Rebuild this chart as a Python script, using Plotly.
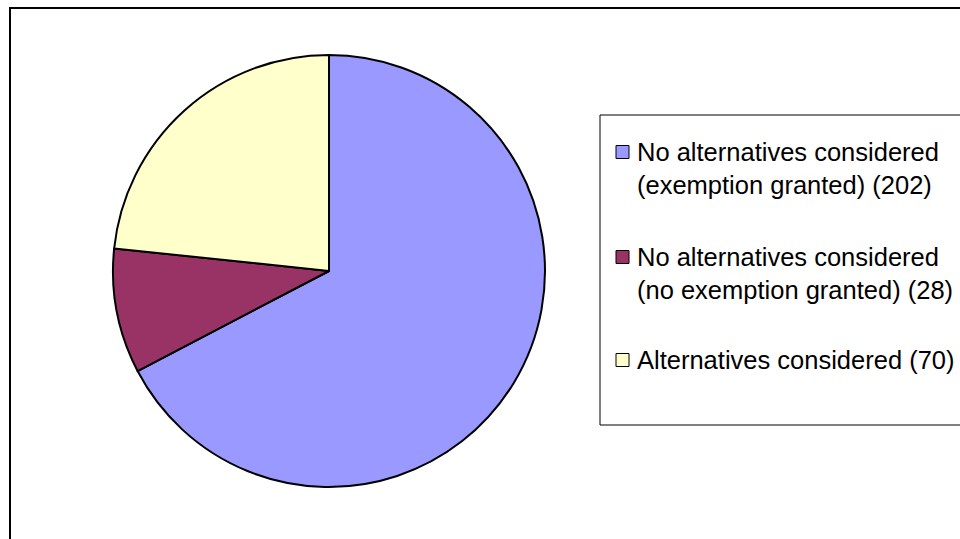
import plotly.graph_objects as go

labels = ["No alternatives considered<br>(exemption granted) (202)",
          "No alternatives considered<br>(no exemption granted) (28)",
          "Alternatives considered (70)"]
values = [202, 28, 70]
colors = ["#9999FF", "#993366", "#FFFFCC"]

W, H = 960, 539

fig = go.Figure(go.Pie(
    labels=labels, values=values, sort=False, direction="clockwise", rotation=0,
    marker=dict(colors=colors, line=dict(color="black", width=2)),
    textinfo="none", hoverinfo="label+value", showlegend=False,
    domain=dict(x=[113 / W, 545 / W], y=[1 - 487 / H, 1 - 55 / H]),
))

shapes = [
    dict(type="rect", xref="paper", yref="paper", x0=10 / W, x1=1.02, y0=-0.02, y1=1 - 8 / H,
         line=dict(color="black", width=2), fillcolor="rgba(0,0,0,0)"),
    dict(type="rect", xref="paper", yref="paper", x0=600 / W, x1=1.02, y0=1 - 425 / H, y1=1 - 115 / H,
         line=dict(color="black", width=1), fillcolor="rgba(0,0,0,0)"),
]
annotations = []
item_y = [152, 257, 360]
for i, (lab, col) in enumerate(zip(labels, colors)):
    y = item_y[i]
    shapes.append(dict(type="rect", xref="paper", yref="paper",
                       x0=616 / W, x1=629 / W, y0=1 - (y + 6.5) / H, y1=1 - (y - 6.5) / H,
                       line=dict(color="black", width=1), fillcolor=col))
    annotations.append(dict(xref="paper", yref="paper", x=635 / W, y=1 - (y - 16) / H,
                            xanchor="left", yanchor="top", showarrow=False, align="left",
                            text=lab, font=dict(family="Liberation Sans, Arial", size=25.5, color="black")))

fig.update_layout(
    width=W, height=H, margin=dict(l=0, r=0, t=0, b=0),
    paper_bgcolor="white", plot_bgcolor="white",
    shapes=shapes, annotations=annotations, showlegend=False,
)
fig.write_html("out.html")
